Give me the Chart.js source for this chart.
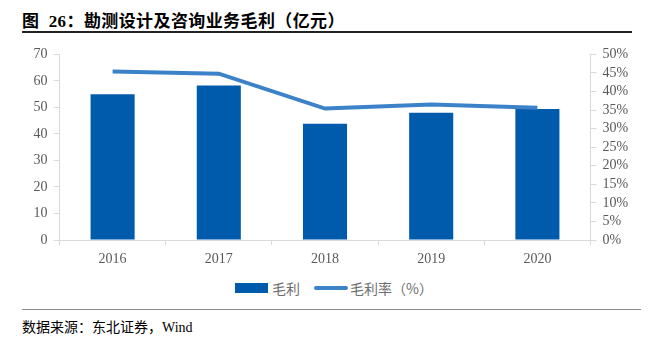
<!DOCTYPE html>
<html>
<head>
<meta charset="utf-8">
<script src="https://cdn.jsdelivr.net/npm/chart.js@4/dist/chart.umd.min.js"></script>
<style>
  html, body { margin:0; padding:0; background:#fff; }
  body { width:651px; height:339px; position:relative; overflow:hidden;
         font-family:"Liberation Serif","Noto Sans CJK SC",serif; }
  .title { position:absolute; left:22px; top:7px; font-size:17px; font-weight:bold; color:#000;
           letter-spacing:0.4px; white-space:pre; }
  .title-rule { position:absolute; left:22px; top:31px; width:610px; height:0; border-top:2px solid #222; }
  .chart-box { position:absolute; left:0; top:40px; width:651px; height:235px; }
  .legend { position:absolute; top:280px; left:235px; height:16px; display:flex; align-items:center;
            font-size:14px; color:#6e6e6e; font-family:"Noto Sans CJK SC",sans-serif; }
  .sw-bar { width:33px; height:10px; background:#005BAC; margin-right:4px; }
  .sw-line { width:34px; height:4px; border-radius:2px; background:#3C82C8; margin-left:14px; margin-right:2px; }
  .foot-rule { position:absolute; left:22px; top:309px; width:619px; height:0; border-top:1.5px solid #8c8c8c; }
  .source { position:absolute; left:22px; top:316px; font-size:14px; color:#000; white-space:nowrap;
            font-family:"Liberation Serif","Noto Sans CJK SC",serif; }
</style>
</head>
<body>
<div class="title">图  26：勘测设计及咨询业务毛利（亿元）</div>
<div class="title-rule"></div>
<div class="chart-box"><canvas id="c" width="651" height="235"></canvas></div>
<div class="legend">
  <div class="sw-bar"></div><span>毛利</span>
  <div class="sw-line"></div><span>毛利率（%）</span>
</div>
<div class="foot-rule"></div>
<div class="source">数据来源：东北证券，Wind</div>

<script>
const years = ['2016', '2017', '2018', '2019', '2020'];
const grossProfit = [55.0, 58.3, 43.8, 48.0, 49.4];      // 亿元
const grossMargin = [45.4, 44.8, 35.4, 36.5, 35.6];      // %

const tickFont = { family: '"Liberation Serif", serif', size: 14 };
const tickColor = '#595959';
const axisColor = '#d9d9d9';

new Chart(document.getElementById('c'), {
  data: {
    labels: years,
    datasets: [
      { type:'line', label:'毛利率（%）', data:grossMargin, yAxisID:'y1',
        borderColor:'#3C82C8', borderWidth:4, pointRadius:0, tension:0, order:0 },
      { type:'bar', label:'毛利', data:grossProfit, yAxisID:'y',
        backgroundColor:'#005BAC', barPercentage:0.415, categoryPercentage:1, order:1 },
    ]
  },
  options: {
    responsive:false,
    animation:false,
    layout: { padding:{ top:12, left:0, right:0, bottom:0 } },
    plugins: { legend:{display:false}, tooltip:{enabled:false} },
    scales: {
      x: {
        offset:true,
        grid:{ offset:true, drawOnChartArea:false, drawTicks:true, tickLength:5, color:axisColor },
        border:{ display:true, color:axisColor },
        ticks:{ color:tickColor, font:tickFont, padding:6 },
        afterFit(s){ s.height = 35; }
      },
      y: {
        position:'left', min:0, max:70,
        grid:{ drawOnChartArea:false, drawTicks:true, tickLength:6, color:axisColor },
        border:{ display:true, color:axisColor },
        ticks:{ stepSize:10, autoSkip:false, color:tickColor, font:tickFont, padding:6 },
        afterFit(s){ s.width = 59.5; }
      },
      y1: {
        position:'right', min:0, max:50,
        grid:{ drawOnChartArea:false, drawTicks:true, tickLength:6, color:axisColor },
        border:{ display:true, color:axisColor },
        ticks:{ stepSize:5, autoSkip:false, color:tickColor, font:tickFont, padding:6, callback:v => v + '%' },
        afterFit(s){ s.width = 60.5; }
      }
    }
  }
});
</script>
</body>
</html>
